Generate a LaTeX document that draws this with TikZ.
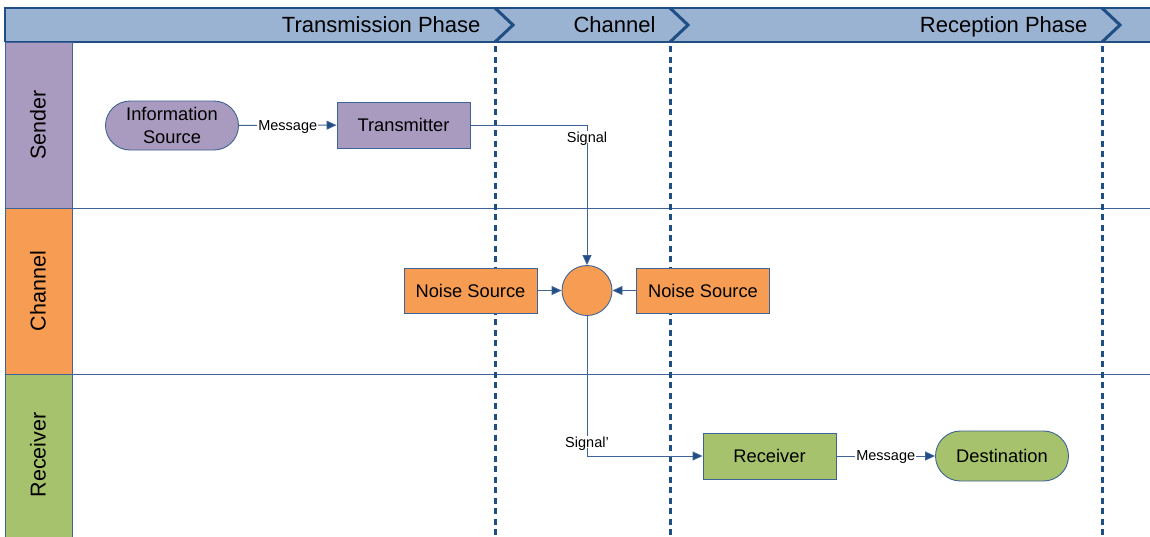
\documentclass[tikz,border=0pt]{standalone}
\usepackage{fontspec}
\setmainfont{Liberation Sans}
\usetikzlibrary{arrows.meta,shapes.misc}
\definecolor{hdr}{HTML}{9BB3D2}
\definecolor{dkblue}{HTML}{1F4E85}
\definecolor{lnblue}{HTML}{3F6396}
\definecolor{purp}{HTML}{A99BBF}
\definecolor{orng}{HTML}{F79D53}
\definecolor{grn}{HTML}{A6C26C}
\tikzset{
  px/.style={x=1pt,y=-1pt},
  boxnode/.style={draw=lnblue,line width=0.9pt,minimum width=133pt,minimum height=46pt,inner sep=0pt,font=\fontsize{18.3}{22}\selectfont,align=center},
  termnode/.style={boxnode,rounded rectangle,minimum height=49pt},
  conn/.style={draw=lnblue,line width=0.9pt,-{Triangle[length=10pt,width=9pt,fill=dkblue]}},
  lbl/.style={font=\fontsize{14.5}{16}\selectfont,fill=white,inner sep=1pt,text depth=0pt},
  phaseline/.style={draw=dkblue,line width=3pt,dash pattern=on 6pt off 4.5pt},
  chev/.style={draw=dkblue,line width=3pt},
  lanehead/.style={draw=lnblue,line width=1pt},
  lanetext/.style={font=\fontsize{21.5}{24}\selectfont,rotate=90},
  phasetext/.style={font=\fontsize{22}{24}\selectfont,anchor=base east},
}
\begin{document}
\begin{tikzpicture}[px]
\useasboundingbox (0,0) rectangle (1150,536);
\fill[white] (0,0) rectangle (1150,536);
% header band
\fill[hdr] (5,8) rectangle (1152,42);
\draw[dkblue,line width=1.5pt] (5,42) -- (5,8) -- (1152,8);
\draw[dkblue,line width=1.5pt] (5,42) -- (1152,42);
% lane headers
\draw[lanehead,fill=purp] (5,42) rectangle (72,208);
\draw[lanehead,fill=orng] (5,208) rectangle (72,374);
\draw[lanehead,fill=grn] (5,374) rectangle (72,540);
\draw[lanehead] (72,208) -- (1152,208);
\draw[lanehead] (72,374) -- (1152,374);
\node[lanetext] (lsend) at (38,125) {Sender};
\node[lanetext] (lchan) at (38,291) {Channel};
\node[lanetext] (lrecv) at (38,455) {Receiver};
% phase texts
\node[phasetext] (ptx) at (484,32) {Transmission Phase};
\node[phasetext] (pch) at (659,32) {Channel};
\node[phasetext] (prx) at (1091,32) {Reception Phase};
% phase separators
\foreach \xx in {495,670,1102}{
  \draw[phaseline] (\xx,46) -- (\xx,540);
  \draw[chev,line join=miter] (\xx,8) -- (\xx+18,25) -- (\xx,42);
}
% nodes
\node[termnode,fill=purp] (info) at (172,125.5) {Information\\[1pt]Source};
\node[boxnode,fill=purp] (tx) at (403.5,125) {Transmitter};
\node[circle,draw=lnblue,line width=0.9pt,fill=orng,minimum size=50pt,inner sep=0pt] (mix) at (587,290.5) {};
\node[boxnode,fill=orng,minimum height=45pt] (ns1) at (470.5,290.5) {Noise Source};
\node[boxnode,fill=orng,minimum height=45pt] (ns2) at (703,290.5) {Noise Source};
\node[boxnode,fill=grn] (rx) at (769.5,456) {Receiver};
\node[termnode,fill=grn,minimum height=50pt] (dest) at (1002,456) {Destination};
% connectors
\draw[conn] (info) -- node[lbl] {Message} (tx);
\draw[conn] (tx.east) -| node[lbl,pos=0.543] {Signal} (mix.north);
\draw[conn] (ns1) -- (mix);
\draw[conn] (ns2) -- (mix);
\draw[conn] (mix.south) |- node[lbl,pos=0.45] {Signal'} (rx.west);
\draw[conn] (rx) -- node[lbl] {Message} (dest);
\end{tikzpicture}
\end{document}
